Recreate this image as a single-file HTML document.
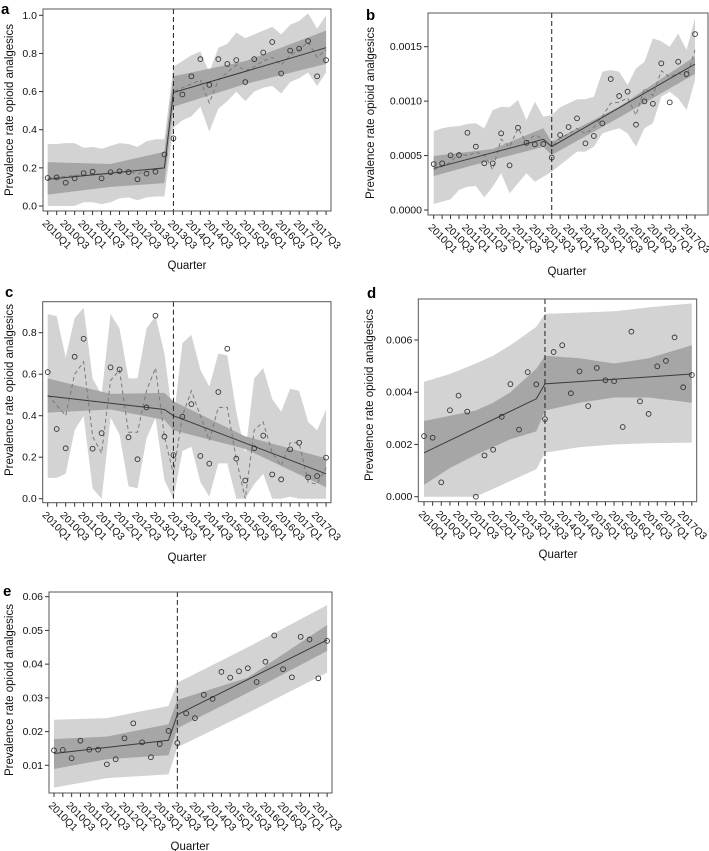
<!DOCTYPE html>
<html><head><meta charset="utf-8"><style>
body{margin:0;background:#fff}
svg{display:block;font-family:"Liberation Sans",Arial,sans-serif}
</style></head><body>
<svg id="fig" width="709" height="851" viewBox="0 0 709 851" xmlns="http://www.w3.org/2000/svg"></svg>
<script>
const quarters = ["2010Q1","2010Q3","2011Q1","2011Q3","2012Q1","2012Q3","2013Q1","2013Q3","2014Q1","2014Q3","2015Q1","2015Q3","2016Q1","2016Q3","2017Q1","2017Q3"];
const fitIdx = [0,13,14,31];
const bandIdx = [0,7,13,14,22,31];

// Panel a
const aPoints = [0.147,0.15,0.122,0.145,0.172,0.18,0.145,0.177,0.182,0.178,0.14,0.17,0.18,0.27,0.355,0.585,0.68,0.77,0.635,0.77,0.745,0.765,0.65,0.77,0.805,0.86,0.695,0.815,0.825,0.865,0.68,0.765];
const aFit = [0.14,0.2,0.595,0.83];
const aInLo = [0.06,0.1,0.12,0.52,0.64,0.745];
const aInHi = [0.23,0.22,0.285,0.68,0.76,0.92];
const aDash = [0.145,0.15,0.155,0.16,0.165,0.17,0.165,0.172,0.18,0.178,0.17,0.18,0.19,0.2,0.6,0.62,0.64,0.66,0.54,0.66,0.7,0.74,0.71,0.73,0.76,0.78,0.74,0.79,0.82,0.86,0.78,0.82];
const aOutLo = [0,0,0,0,0.02,0.02,0.01,0.02,0.04,0.045,0.03,0.045,0.05,0.05,0.41,0.45,0.47,0.52,0.39,0.51,0.55,0.6,0.55,0.6,0.62,0.63,0.59,0.65,0.67,0.7,0.63,0.7];
const aOutHi = [0.325,0.325,0.33,0.33,0.305,0.31,0.3,0.315,0.33,0.325,0.31,0.34,0.35,0.35,0.73,0.76,0.79,0.81,0.7,0.83,0.85,0.91,0.88,0.9,0.92,0.94,0.9,0.95,0.97,1.01,0.93,1.0];
const aTicks = [0,0.2,0.4,0.6,0.8,1.0];
const aTickLabels = ["0.0","0.2","0.4","0.6","0.8","1.0"];

// Panel b
const bPoints = [0.000422,0.000429,0.000502,0.000505,0.00071,0.000582,0.000429,0.000429,0.000704,0.00041,0.000756,0.000618,0.000603,0.000606,0.000481,0.000689,0.000762,0.000842,0.000612,0.00068,0.000796,0.001203,0.001047,0.001087,0.000784,0.000998,0.000976,0.001347,0.000989,0.001362,0.001249,0.001616];
const bFit = [0.000383,0.000649,0.000582,0.00134];
const bInLo = [0.000312,0.00046,0.00058,0.000505,0.00085,0.00125];
const bInHi = [0.000496,0.00056,0.00075,0.000627,0.00095,0.00141];
const bDash = [0.00037,0.0004,0.00044,0.00052,0.0005,0.00053,0.00051,0.00037,0.00065,0.00058,0.00075,0.00062,0.00069,0.00065,0.00058,0.00066,0.0007,0.00075,0.0007,0.00076,0.00086,0.00098,0.00099,0.00103,0.00087,0.00112,0.00105,0.00128,0.00122,0.00126,0.00122,0.00147];
const bOutLo = [0.000055,0.000077,0.000098,0.000184,0.000214,0.00022,0.000116,0.000214,0.000337,0.000153,0.000245,0.000337,0.00026,0.000306,0.000352,0.000413,0.000474,0.000536,0.000536,0.000582,0.000704,0.000729,0.00075,0.000704,0.000582,0.00075,0.000796,0.001041,0.001087,0.001025,0.000918,0.001194];
const bOutHi = [0.000725,0.00075,0.000765,0.000771,0.00079,0.000796,0.00075,0.000918,0.000949,0.000943,0.00101,0.000826,0.000995,0.000857,0.000872,0.000943,0.00098,0.001016,0.001019,0.001041,0.00127,0.001286,0.00127,0.001148,0.001301,0.001362,0.001576,0.00155,0.0015,0.00162,0.00147,0.00176];
const bTicks = [0,0.0005,0.001,0.0015];
const bTickLabels = ["0.0000","0.0005","0.0010","0.0015"];

// Panel c
const cPoints = [0.61,0.336,0.243,0.684,0.771,0.241,0.316,0.633,0.623,0.296,0.19,0.44,0.882,0.299,0.21,0.395,0.456,0.206,0.169,0.514,0.723,0.193,0.088,0.243,0.304,0.117,0.093,0.238,0.27,0.103,0.109,0.198];
const cFit = [0.495,0.43,0.4,0.12];
const cInLo = [0.415,0.43,0.38,0.33,0.24,0.055];
const cInHi = [0.58,0.505,0.51,0.47,0.3,0.195];
const cDash = [0.5,0.45,0.4,0.6,0.66,0.3,0.22,0.57,0.62,0.32,0.32,0.52,0.63,0.3,0.12,0.4,0.52,0.4,0.28,0.44,0.44,0.19,0.0,0.33,0.37,0.22,0.16,0.27,0.27,0.08,0.07,0.15];
const cOutLo = [0.1,0.1,0.12,0.33,0.4,0.05,0,0.39,0.31,0.06,0.05,0.29,0.39,0.09,0,0.23,0.25,0.08,0.01,0.17,0.17,0,0,0.07,0.12,0,0,0.01,0,0,0,0];
const cOutHi = [0.89,0.88,0.68,0.87,0.92,0.58,0.5,0.89,0.82,0.58,0.58,0.82,0.88,0.7,0.37,0.75,0.79,0.62,0.54,0.7,0.69,0.42,0.22,0.58,0.63,0.48,0.42,0.53,0.52,0.37,0.33,0.43];
const cTicks = [0,0.2,0.4,0.6,0.8];
const cTickLabels = ["0.0","0.2","0.4","0.6","0.8"];

// Panel d
const dPoints = [0.00232,0.00226,0.00055,0.00331,0.00387,0.00326,0.0,0.00158,0.0018,0.00306,0.00431,0.00257,0.00477,0.0043,0.00297,0.00554,0.0058,0.00396,0.0048,0.00347,0.00493,0.00446,0.00442,0.00267,0.00632,0.00365,0.00317,0.00499,0.0052,0.0061,0.00419,0.00466];
const dFit = [0.00168,0.00375,0.00432,0.0047];
const dBandIdx = [0,3,6,8,10,13,14,18,22,26,31];
const dInLo = [0.00045,0.0011,0.0016,0.0019,0.0022,0.0025,0.0033,0.0036,0.0038,0.0038,0.0036];
const dInHi = [0.0029,0.0031,0.0033,0.0036,0.004,0.0049,0.0054,0.0053,0.0051,0.0053,0.0058];
const dOutLo = [0,0,0,0.0003,0.0006,0.00105,0.00168,0.0019,0.002,0.00205,0.00207];
const dOutHi = [0.0044,0.0047,0.0051,0.0054,0.0058,0.0065,0.007,0.00705,0.0071,0.00725,0.0074];
const dTicks = [0,0.002,0.004,0.006];
const dTickLabels = ["0.000","0.002","0.004","0.006"];

// Panel e
const ePoints = [0.01445,0.01455,0.0121,0.0173,0.01464,0.01464,0.0103,0.0118,0.018,0.02245,0.0168,0.0124,0.0163,0.0202,0.0166,0.0254,0.024,0.0309,0.0297,0.0377,0.036,0.0379,0.0388,0.0347,0.0407,0.0485,0.0385,0.0361,0.0481,0.0473,0.0358,0.0469];
const eFit = [0.0135,0.0174,0.025,0.0472];
const eBandIdx = [0,6,13,14,22,31];
const eInLo = [0.0089,0.0118,0.013,0.021,0.0315,0.0439];
const eInHi = [0.0178,0.0185,0.0222,0.0294,0.036,0.0516];
const eOutLo = [0.0034,0.0062,0.0073,0.0153,0.0255,0.0375];
const eOutHi = [0.0235,0.024,0.0276,0.0345,0.045,0.0575];
const eTicks = [0.01,0.02,0.03,0.04,0.05,0.06];
const eTickLabels = ["0.01","0.02","0.03","0.04","0.05","0.06"];

const NS = "http://www.w3.org/2000/svg";
const svg = document.getElementById('fig');
function mk(tag, attrs, parent){
  const e = document.createElementNS(NS, tag);
  for (const k in attrs) e.setAttribute(k, attrs[k]);
  (parent||svg).appendChild(e);
  return e;
}
const allIdx = [...Array(32).keys()];

function panel(p){
  const g = mk('g', {});
  
  
  const xs = i => p.x0 + i * p.step;
  const ys = v => p.p1 + (v - p.v1) * (p.p2 - p.p1) / (p.v2 - p.v1);
  const band = (idx, lo, hi, fill, name) => {
    let pts = idx.map((i,k) => xs(i).toFixed(1)+','+ys(hi[k]).toFixed(1));
    for (let k = idx.length-1; k >= 0; k--) pts.push(xs(idx[k]).toFixed(1)+','+ys(lo[k]).toFixed(1));
    const e = mk('polygon', {points: pts.join(' '), fill: fill}, g);
    
    
  };
  const line = (idx, vals, attrs, name) => {
    const e = mk('polyline', Object.assign({points: idx.map((i,k)=>xs(i).toFixed(1)+','+ys(vals[k]).toFixed(1)).join(' '), fill:'none'}, attrs), g);
    
    
  };
  const [bx0, by0, bx1, by1] = p.box;
  band(p.outIdx, p.outLo, p.outHi, '#d3d3d3', 'prediction-band');
  band(p.inIdx, p.inLo, p.inHi, '#a6a6a6', 'confidence-band');
  if (p.dash) line(allIdx, p.dash, {stroke:'#7a7a7a','stroke-width':1,'stroke-dasharray':'4,3'}, 'seasonal-fit-line');
  line(fitIdx, p.fit, {stroke:'#3a3a3a','stroke-width':1}, 'segmented-fit-line');
  p.points.forEach((v,i) => {
    const c = mk('circle', {cx: xs(i), cy: ys(v), r: 2.4, fill:'none', stroke:'#333', 'stroke-width':0.9}, g);
    
    
  });
  const vl = mk('line', {x1: xs(14), x2: xs(14), y1: by0, y2: by1, stroke:'#222', 'stroke-width':1, 'stroke-dasharray':'5,3'}, g);
  
  
  const box = mk('rect', {x: bx0, y: by0, width: bx1-bx0, height: by1-by0, fill:'none', stroke:'#555', 'stroke-width':1}, g);
  
  
  p.ticks.forEach((v,k) => {
    const y = ys(v);
    mk('line', {x1: bx0-4, x2: bx0, y1: y, y2: y, stroke:'#333'}, g);
    const t = mk('text', {x: bx0-6, y: y+3.5, 'text-anchor':'end', 'font-size':10.5, fill:'#111'}, g);
    t.textContent = p.tickLabels[k];
    
    
  });
  allIdx.forEach(i => {
    const x = xs(i);
    mk('line', {x1: x, x2: x, y1: by1, y2: by1+4, stroke:'#333'}, g);
  });
  quarters.forEach((q,k) => {
    const x = xs(k*2);
    const ax = x-6, ay = by1+13;
    const t = mk('text', {x: ax, y: ay, 'font-size':10.2, fill:'#111', transform:`rotate(45 ${ax} ${ay})`}, g);
    t.textContent = q;
    
    
  });
  const xt = mk('text', {x: p.xTitle[0], y: p.xTitle[1], 'text-anchor':'middle', 'font-size':11.5, fill:'#111'}, g);
  xt.textContent = 'Quarter';
  
  
  const yt = mk('text', {x: p.yTitle[0], y: p.yTitle[1], 'text-anchor':'middle', 'font-size':11.5, fill:'#111', transform:`rotate(-90 ${p.yTitle[0]} ${p.yTitle[1]})`}, g);
  yt.textContent = 'Prevalence rate opioid analgesics';
  
  
  const lt = mk('text', {x: p.label[0], y: p.label[1], 'font-size':15, 'font-weight':'bold', fill:'#000'}, g);
  lt.textContent = p.letter;
  
  
}

panel({letter:'a', x0:47.7, step:8.98, v1:0, p1:206, v2:1, p2:15.3, box:[43,9,331,211],
  points:aPoints, fit:aFit, inIdx:bandIdx, inLo:aInLo, inHi:aInHi, outIdx:allIdx, outLo:aOutLo, outHi:aOutHi, dash:aDash,
  ticks:aTicks, tickLabels:aTickLabels, xTitle:[187,269], yTitle:[13,110], label:[1,14]});
panel({letter:'b', x0:433.7, step:8.43, v1:0, p1:210, v2:0.0015, p2:46.7, box:[428,13,708,215],
  points:bPoints, fit:bFit, inIdx:bandIdx, inLo:bInLo, inHi:bInHi, outIdx:allIdx, outLo:bOutLo, outHi:bOutHi, dash:bDash,
  ticks:bTicks, tickLabels:bTickLabels, xTitle:[567,275], yTitle:[374,113], label:[366,20]});
panel({letter:'c', x0:47.7, step:8.98, v1:0, p1:498.7, v2:0.8, p2:332.7, box:[42.7,301.7,331,502.7],
  points:cPoints, fit:cFit, inIdx:bandIdx, inLo:cInLo, inHi:cInHi, outIdx:allIdx, outLo:cOutLo, outHi:cOutHi, dash:cDash,
  ticks:cTicks, tickLabels:cTickLabels, xTitle:[187,561], yTitle:[13,390], label:[5,297]});
panel({letter:'d', x0:424, step:8.64, v1:0, p1:496.7, v2:0.006, p2:340, box:[418.3,299,696.7,501.7],
  points:dPoints, fit:dFit, inIdx:dBandIdx, inLo:dInLo, inHi:dInHi, outIdx:dBandIdx, outLo:dOutLo, outHi:dOutHi, dash:null,
  ticks:dTicks, tickLabels:dTickLabels, xTitle:[558,558], yTitle:[373,395], label:[367,298]});
panel({letter:'e', x0:54, step:8.81, v1:0.01, p1:765.3, v2:0.06, p2:596.7, box:[49,592,332,793],
  points:ePoints, fit:eFit, inIdx:eBandIdx, inLo:eInLo, inHi:eInHi, outIdx:eBandIdx, outLo:eOutLo, outHi:eOutHi, dash:null,
  ticks:eTicks, tickLabels:eTickLabels, xTitle:[190,850], yTitle:[13,690], label:[3,596]});
</script>
</body></html>
